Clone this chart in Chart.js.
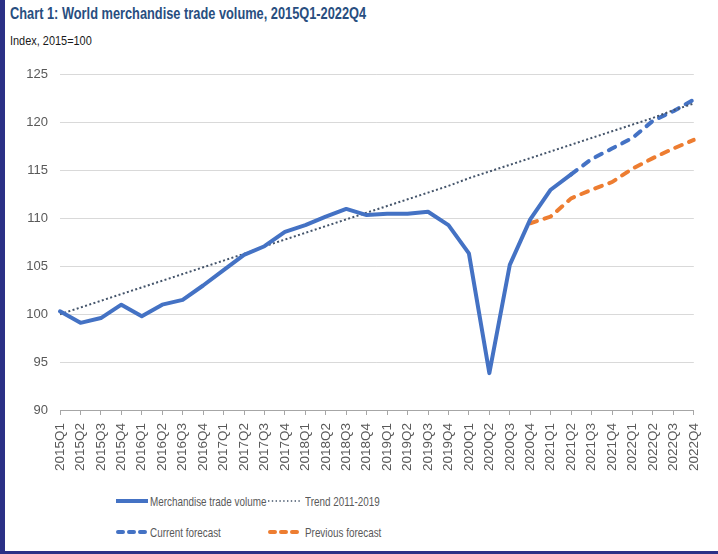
<!DOCTYPE html>
<html>
<head>
<meta charset="utf-8">
<script src="https://cdn.jsdelivr.net/npm/chart.js@4.4.0/dist/chart.umd.min.js"></script>
<style>
  html, body { margin: 0; padding: 0; }
  body { width: 718px; height: 554px; background: #2b3086; position: relative; overflow: hidden; }
  #page { position: absolute; left: 5px; top: 0; width: 713px; height: 551px; background: #fff; }
  /* the original uses condensed faces; squeeze the available sans instead */
  #title { position: absolute; left: 5px; top: 5px; font: bold 16px 'Liberation Sans', sans-serif; color: #284e7f; white-space: nowrap; transform: scaleX(0.8); transform-origin: left center; }
  #subtitle { position: absolute; left: 5px; top: 33px; font: 13.5px 'Liberation Sans', sans-serif; color: #1a1a1a; white-space: nowrap; transform: scaleX(0.81); transform-origin: left center; }
  #chartbox { position: absolute; left: 0; top: 55px; width: 713px; height: 425px; }
  .leg { position: absolute; font: 13px 'Liberation Sans', sans-serif; color: #595959; white-space: nowrap; line-height: 15px; }
  .leg svg { position: absolute; left: 0; top: 3px; }
  .leg span { position: absolute; white-space: nowrap; transform: scaleX(0.76); transform-origin: left center; }
</style>
</head>
<body>
<div id="page">
  <div id="title">Chart 1: World merchandise trade volume, 2015Q1-2022Q4</div>
  <div id="subtitle">Index, 2015=100</div>
  <div id="chartbox"><canvas id="chart" width="713" height="425"></canvas></div>

  <div class="leg" style="left:110px; top:494px;">
    <svg width="34" height="8"><line x1="1" y1="4" x2="33" y2="4" stroke="#4472c4" stroke-width="4"/></svg>
    <span style="left:35px; top:0;">Merchandise trade volume</span>
  </div>
  <div class="leg" style="left:262px; top:494px;">
    <svg width="34" height="8"><line x1="1" y1="4" x2="33" y2="4" stroke="#44546a" stroke-width="1.6" stroke-dasharray="1.4 2.4"/></svg>
    <span style="left:38px; top:0;">Trend 2011-2019</span>
  </div>
  <div class="leg" style="left:110px; top:525px;">
    <svg width="34" height="8"><line x1="3" y1="4" x2="31" y2="4" stroke="#4472c4" stroke-width="4" stroke-linecap="round" stroke-dasharray="5 6"/></svg>
    <span style="left:35px; top:0;">Current forecast</span>
  </div>
  <div class="leg" style="left:262px; top:525px;">
    <svg width="34" height="8"><line x1="3" y1="4" x2="31" y2="4" stroke="#ed7d31" stroke-width="4" stroke-linecap="round" stroke-dasharray="5 6"/></svg>
    <span style="left:38px; top:0;">Previous forecast</span>
  </div>
</div>

<script>
// quarters on the x axis
const quarters = [
  "2015Q1","2015Q2","2015Q3","2015Q4",
  "2016Q1","2016Q2","2016Q3","2016Q4",
  "2017Q1","2017Q2","2017Q3","2017Q4",
  "2018Q1","2018Q2","2018Q3","2018Q4",
  "2019Q1","2019Q2","2019Q3","2019Q4",
  "2020Q1","2020Q2","2020Q3","2020Q4",
  "2021Q1","2021Q2","2021Q3","2021Q4",
  "2022Q1","2022Q2","2022Q3","2022Q4"
];

// actual volume, up to 2021Q2
const tradeVolume = [
  100.3, 99.1, 99.6, 101.0,
  99.8, 101.0, 101.5, 103.0,
  104.6, 106.2, 107.1, 108.6,
  109.3, 110.2, 111.0, 110.35,
  110.5, 110.5, 110.7, 109.3,
  106.35, 93.85, 105.15, 109.9,
  113.0, 114.6, null, null,
  null, null, null, null
];

// trend 2011-2019
const trend = [
  100.0, 100.7, 101.4, 102.1,
  102.8, 103.5, 104.2, 104.9,
  105.6, 106.3, 107.1, 107.8,
  108.5, 109.2, 109.9, 110.6,
  111.3, 112.0, 112.7, 113.4,
  114.2, 114.9, 115.6, 116.3,
  117.0, 117.7, 118.4, 119.1,
  119.8, 120.5, 121.3, 122.0
];

const currentForecast = [
  null, null, null, null,
  null, null, null, null,
  null, null, null, null,
  null, null, null, null,
  null, null, null, null,
  null, null, null, null,
  null, 114.6, 116.2, 117.3,
  118.4, 120.2, 121.2, 122.4
];

const previousForecast = [
  null, null, null, null,
  null, null, null, null,
  null, null, null, null,
  null, null, null, null,
  null, null, null, null,
  null, null, null, 109.5,
  110.2, 112.1, 113.0, 113.8,
  115.2, 116.3, 117.3, 118.2
];

const yTicksFont = { family: "'Liberation Sans', sans-serif", size: 13 };
const xTicksFont = { family: "'Liberation Sans', sans-serif", size: 13.5 };

new Chart(document.getElementById("chart"), {
  type: 'line',
  data: {
    labels: quarters,
    datasets: [{
        label: "Merchandise trade volume",
        data: tradeVolume,
        borderColor: "#4472c4",
        borderWidth: 4,
        borderJoinStyle: 'round',
        borderCapStyle: 'round',
        pointRadius: 0,
        fill: false
      }, {
        label: "Trend 2011-2019",
        data: trend,
        borderColor: "#44546a",
        borderWidth: 2,
        borderDash: [2, 2.4],
        pointRadius: 0,
        fill: false
      }, {
        label: "Current forecast",
        data: currentForecast,
        borderColor: "#4472c4",
        borderWidth: 4,
        borderDash: [7, 8],
        borderCapStyle: 'round',
        pointRadius: 0,
        fill: false
      }, {
        label: "Previous forecast",
        data: previousForecast,
        borderColor: "#ed7d31",
        borderWidth: 4,
        borderDash: [7, 8],
        borderCapStyle: 'round',
        pointRadius: 0,
        fill: false
      }
    ]
  },
  options: {
    responsive: false,
    animation: false,
    layout: { padding: { left: 5, right: 19, top: 19, bottom: 0 } },
    plugins: {
      legend: { display: false },
      title: { display: false },
      tooltip: { enabled: false }
    },
    scales: {
      y: {
        min: 90,
        max: 125,
        ticks: { stepSize: 5, color: "#595959", font: yTicksFont, padding: 12 },
        grid: { color: "#d9d9d9", lineWidth: 1, drawTicks: false },
        border: { display: false },
        afterFit: function(scale) { scale.width = 50; }
      },
      x: {
        offset: false,
        ticks: {
          autoSkip: false, maxRotation: 90, minRotation: 90,
          color: "#595959", font: xTicksFont, padding: 8
        },
        grid: { drawOnChartArea: false, drawTicks: true, tickLength: 5, tickColor: "#a6a6a6" },
        border: { display: true, color: "#a6a6a6", width: 1 },
        afterFit: function(scale) { scale.height = 70; }
      }
    }
  }
});
</script>
</body>
</html>
